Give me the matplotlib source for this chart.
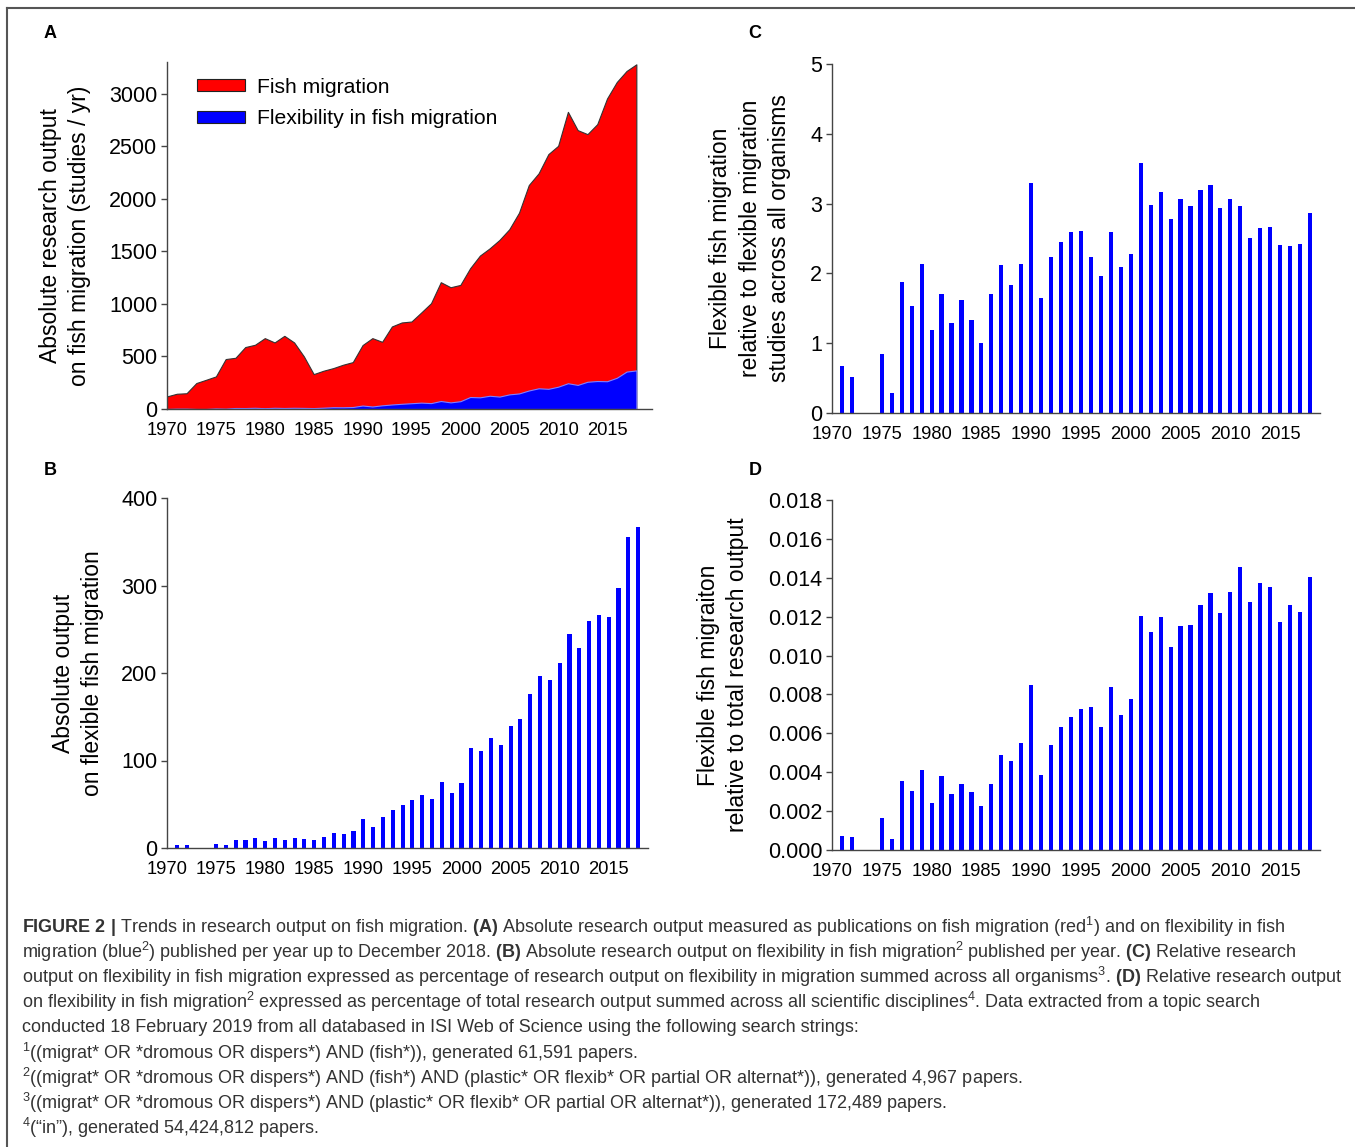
import numpy as np
import matplotlib.pyplot as plt
from matplotlib.lines import Line2D
from matplotlib.patches import Patch

plt.rcParams['font.family'] = ['Liberation Sans', 'DejaVu Sans']
plt.rcParams['mathtext.fontset'] = 'custom'
plt.rcParams['mathtext.rm'] = 'Liberation Sans'
plt.rcParams['mathtext.bf'] = 'Liberation Sans:bold'
plt.rcParams['mathtext.it'] = 'Liberation Sans:italic'

# --- data ---
years = list(range(1970, 2019))

# A: all fish migration papers per year
fish_migration = [120, 145, 150, 247, 278, 310, 475, 487, 589, 611,
                  674, 633, 696, 633, 500, 332, 364, 389, 421, 446,
                  608, 674, 639, 785, 823, 832, 918, 1006, 1206, 1158,
                  1180, 1339, 1459, 1528, 1608, 1709, 1867, 2130, 2241, 2424,
                  2503, 2826, 2652, 2614, 2709, 2953, 3110, 3215, 3278]

# B: flexible fish migration papers per year
flexible = [0, 3, 3, 0, 0, 5, 3, 9.5, 9, 11.4,
            7.6, 11.4, 9.5, 11.4, 10.3, 8.8, 12.6, 17, 16.4, 19,
            33, 24, 35, 43, 49.5, 55, 60.6, 56, 76, 63,
            74, 114, 111, 126, 118, 139, 148, 176, 197, 192,
            212, 245, 229, 259, 266, 264, 297, 356, 367]

# C: relative to flexible migration across all organisms (%)
rel_organisms = [0, 0.68, 0.52, 0, 0, 0.85, 0.28, 1.87, 1.53, 2.13,
                 1.19, 1.70, 1.29, 1.62, 1.33, 1.00, 1.70, 2.12, 1.84, 2.13,
                 3.30, 1.65, 2.23, 2.45, 2.60, 2.61, 2.23, 1.96, 2.59, 2.09,
                 2.28, 3.58, 2.98, 3.17, 2.78, 3.06, 2.97, 3.19, 3.26, 2.94,
                 3.06, 2.97, 2.51, 2.65, 2.67, 2.40, 2.39, 2.42, 2.86]

# D: relative to total research output (%)
rel_total = [0, 0.00074, 0.00069, 0, 0, 0.00163, 0.00055, 0.00357, 0.00303, 0.00411,
             0.0024, 0.00379, 0.0029, 0.0034, 0.0030, 0.00228, 0.0034, 0.00487, 0.00459, 0.00552,
             0.00847, 0.00384, 0.0054, 0.00634, 0.00682, 0.00727, 0.00734, 0.00632, 0.00836, 0.00692,
             0.00778, 0.01203, 0.01123, 0.0120, 0.01046, 0.01152, 0.01159, 0.01262, 0.01323, 0.01217,
             0.01325, 0.01453, 0.01275, 0.01371, 0.01351, 0.01172, 0.01262, 0.01226, 0.01405]

xticks = list(range(1970, 2016, 5))

caption_lines = [
    r"$\mathbf{FIGURE\ 2\ |}$ Trends in research output on fish migration. $\mathbf{(A)}$ Absolute research output measured as publications on fish migration (red$^{1}$) and on flexibility in fish",
    r"migration (blue$^{2}$) published per year up to December 2018. $\mathbf{(B)}$ Absolute research output on flexibility in fish migration$^{2}$ published per year. $\mathbf{(C)}$ Relative research",
    r"output on flexibility in fish migration expressed as percentage of research output on flexibility in migration summed across all organisms$^{3}$. $\mathbf{(D)}$ Relative research output",
    r"on flexibility in fish migration$^{2}$ expressed as percentage of total research output summed across all scientific disciplines$^{4}$. Data extracted from a topic search",
    r"conducted 18 February 2019 from all databased in ISI Web of Science using the following search strings:",
    r"$^{1}$((migrat* OR *dromous OR dispers*) AND (fish*)), generated 61,591 papers.",
    r"$^{2}$((migrat* OR *dromous OR dispers*) AND (fish*) AND (plastic* OR flexib* OR partial OR alternat*)), generated 4,967 papers.",
    r"$^{3}$((migrat* OR *dromous OR dispers*) AND (plastic* OR flexib* OR partial OR alternat*)), generated 172,489 papers.",
    "$^{4}$(\u201cin\u201d), generated 54,424,812 papers.",
]

W, H = 1355, 1147
fig = plt.figure(figsize=(W / 100, H / 100), dpi=100)


def px_axes(l, t, r, b):
    return fig.add_axes([l / W, 1 - b / H, (r - l) / W, (b - t) / H])


def style(ax):
    for s in ['top', 'right']:
        ax.spines[s].set_visible(False)
    for s in ['left', 'bottom']:
        ax.spines[s].set_color('#444444')
        ax.spines[s].set_linewidth(1.0)
    ax.tick_params(axis='y', direction='out', length=4, width=1, color='#444444',
                   labelsize=15.5, pad=3)
    ax.tick_params(axis='x', length=0, labelsize=13.2, pad=9.5)
    ax.set_xticks(xticks)
    ax.set_xlim(1970, 2019)


yrs = np.array(years)

# Panel A
axA = px_axes(167, 62, 652, 409)
axA.fill_between(yrs, 0, fish_migration, color='#ff0000', edgecolor='#333333', linewidth=0.8)
axA.fill_between(yrs, 0, flexible, color='#0000ff', edgecolor='#8080ff', linewidth=0.8)
style(axA)
axA.set_xlim(1970, 2019.6)
axA.set_ylim(0, 3300)
axA.set_yticks(range(0, 3001, 500))
axA.set_ylabel("Absolute research output\non fish migration (studies / yr)", fontsize=16.5, va='center',
               linespacing=1.35)
axA.yaxis.set_label_coords(-0.21, 0.5)
handles = [Patch(facecolor='#ff0000', edgecolor='#222222', linewidth=0.8, label='Fish migration'),
           Patch(facecolor='#0000ff', edgecolor='#222222', linewidth=0.8, label='Flexibility in fish migration')]
axA.legend(handles=handles, loc='upper left', bbox_to_anchor=(0.022, 1.01), frameon=False,
           fontsize=15.2, handlelength=2.3, handleheight=0.5, handletextpad=0.55, labelspacing=0.6)

# Panel B
axB = px_axes(167, 498, 648, 848)
axB.bar(yrs, flexible, width=0.42, color='#0000ff')
style(axB)
axB.set_ylim(0, 400)
axB.set_yticks(range(0, 401, 100))
axB.set_ylabel("Absolute output\non flexible fish migration", fontsize=16.5, va='center',
               linespacing=1.35)
axB.yaxis.set_label_coords(-0.185, 0.5)

# Panel C
axC = px_axes(832, 64, 1320, 413)
axC.bar(yrs, rel_organisms, width=0.42, color='#0000ff')
style(axC)
axC.set_ylim(0, 5)
axC.set_yticks(range(0, 6))
axC.set_ylabel("Flexible fish migration\nrelative to flexible migration\nstudies across all organisms",
               fontsize=16.5, va='center', linespacing=1.35)
axC.yaxis.set_label_coords(-0.168, 0.5)

# Panel D
axD = px_axes(832, 500, 1320, 850)
axD.bar(yrs, rel_total, width=0.42, color='#0000ff')
style(axD)
axD.set_ylim(0, 0.018)
axD.set_yticks(np.arange(0, 0.0181, 0.002))
axD.yaxis.set_major_formatter(plt.FormatStrFormatter('%.3f'))
axD.set_ylabel("Flexible fish migraiton\nrelative to total research output", fontsize=16.5, va='center',
               linespacing=1.35)
axD.yaxis.set_label_coords(-0.223, 0.5)

# panel letters
for letter, x, y in [('A', 50, 33), ('B', 50, 470), ('C', 755, 33), ('D', 755, 470)]:
    fig.text(x / W, 1 - y / H, letter, fontsize=13, fontweight='bold', ha='center', va='center')

# caption
for i, line in enumerate(caption_lines):
    fig.text(22 / W, 1 - (927 + 25.1 * i) / H, line, fontsize=12.95, color='#333333',
             ha='left', va='center')

# frame of the figure box
fig.add_artist(Line2D([7 / W, 1], [1 - 8 / H, 1 - 8 / H], color='#555555', lw=1.5))
fig.add_artist(Line2D([7 / W, 7 / W], [0, 1 - 8 / H], color='#555555', lw=1.5))

fig.savefig('out.png', dpi=100)
